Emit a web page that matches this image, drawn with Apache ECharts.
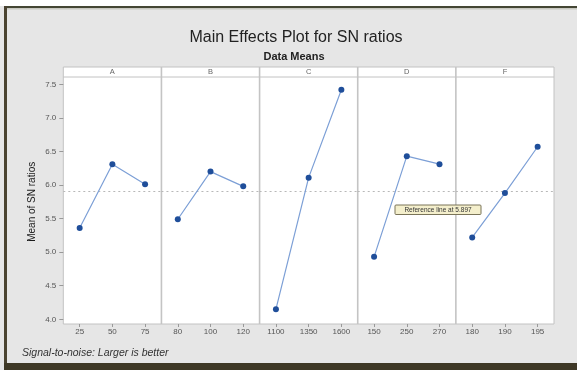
<!DOCTYPE html>
<html>
<head>
<meta charset="utf-8">
<script src="https://cdn.jsdelivr.net/npm/echarts@6/dist/echarts.min.js"></script>
<style>html,body{margin:0;padding:0;background:#fff;}#chart{width:577px;height:370px;}</style>
</head>
<body>
<div id="chart"></div>
<script>
// ---- data ----
const factorNames = ['A', 'B', 'C', 'D', 'F'];
const levelsA = ['25', '50', '75'];
const levelsB = ['80', '100', '120'];
const levelsC = ['1100', '1350', '1600'];
const levelsD = ['150', '250', '270'];
const levelsF = ['180', '190', '195'];
const meansA = [5.36, 6.31, 6.01];
const meansB = [5.49, 6.20, 5.98];
const meansC = [4.15, 6.11, 7.42];
const meansD = [4.93, 6.43, 6.31];
const meansF = [5.22, 5.88, 6.57];
const referenceValue = 5.897;
const yMin = 4.0, yMax = 7.5, yStep = 0.5;

const levels = [levelsA, levelsB, levelsC, levelsD, levelsF];
const means = [meansA, meansB, meansC, meansD, meansF];

// ---- layout ----
const W = 577, H = 370;
const plotLeft = 63.3, plotRight = 554;
const panelW = (plotRight - plotLeft) / 5;
const gridTop = 84.3, gridBottomY = 319.3;
const stripTop = 67, stripBottom = 77, frameBottom = 324;
const font = 'Liberation Sans, Arial, sans-serif';

const grids = [], xAxes = [], yAxes = [], series = [];
factorNames.forEach((f, i) => {
  grids.push({left: plotLeft + i * panelW, width: panelW, top: gridTop, height: gridBottomY - gridTop, containLabel: false});
  xAxes.push({
    gridIndex: i, type: 'category', data: levels[i], boundaryGap: true, offset: frameBottom - gridBottomY,
    axisLine: {show: false},
    axisTick: {show: true, alignWithLabel: true, length: 3, lineStyle: {color: '#999'}},
    axisLabel: {fontSize: 8, color: '#555', margin: 4, fontFamily: font},
    splitLine: {show: false}
  });
  yAxes.push({
    gridIndex: i, type: 'value', min: yMin, max: yMax, interval: yStep,
    axisLine: {show: false},
    axisTick: {show: i === 0, length: 4, lineStyle: {color: '#999'}},
    axisLabel: {show: i === 0, fontSize: 8, color: '#555', margin: 7, fontFamily: font, formatter: v => v.toFixed(1)},
    splitLine: {show: false},
    name: i === 0 ? 'Mean of SN ratios' : '',
    nameLocation: 'middle', nameGap: 26, nameRotate: 90,
    nameTextStyle: {fontSize: 10, color: '#1a1a1a', fontFamily: font}
  });
  series.push({
    type: 'line', xAxisIndex: i, yAxisIndex: i, data: means[i],
    symbol: 'circle', symbolSize: 6, z: 5,
    itemStyle: {color: '#1f4e9a'},
    lineStyle: {color: '#7c9fd6', width: 1.2},
    emphasis: {disabled: true},
    markLine: {
      silent: true, symbol: 'none', z: 3,
      label: {show: false},
      lineStyle: {type: [2, 3], color: '#b8b8b8', width: 1},
      data: [{yAxis: referenceValue}]
    }
  });
});

const graphics = [
  // outer window frame
  {type: 'rect', shape: {x: 0, y: 0, width: W, height: 6}, style: {fill: '#ffffff'}, z: -10},
  {type: 'rect', shape: {x: 4, y: 6, width: W - 4, height: 2}, style: {fill: '#444634'}, z: -9},
  {type: 'rect', shape: {x: 7, y: 8, width: W - 7, height: 1.5}, style: {fill: '#c8c8c0'}, z: -9},
  {type: 'rect', shape: {x: 4, y: 6, width: 3, height: H - 6}, style: {fill: '#4a4330'}, z: -9},
  {type: 'rect', shape: {x: 4, y: 363, width: W - 4, height: 7}, style: {fill: '#3e3826'}, z: -9},
  // panel frame
  {type: 'rect', shape: {x: plotLeft, y: stripTop, width: plotRight - plotLeft, height: frameBottom - stripTop},
   style: {fill: '#ffffff', stroke: '#c2c2c2', lineWidth: 1}, z: -5},
  {type: 'line', shape: {x1: plotLeft, y1: stripBottom, x2: plotRight, y2: stripBottom},
   style: {stroke: '#c2c2c2', lineWidth: 1}, z: -4}
];
for (let i = 1; i < 5; i++) {
  const x = plotLeft + i * panelW;
  graphics.push({type: 'line', shape: {x1: x, y1: stripTop, x2: x, y2: frameBottom},
    style: {stroke: '#c4c4c4', lineWidth: 1.6}, z: -4});
}
factorNames.forEach((f, i) => {
  graphics.push({type: 'text', x: plotLeft + (i + 0.5) * panelW, y: (stripTop + stripBottom) / 2,
    style: {text: f, fontSize: 7.5, fill: '#666', align: 'center', verticalAlign: 'middle', fontFamily: font}, z: -3});
});
// reference-line annotation
graphics.push({type: 'rect', shape: {x: 395, y: 205, width: 86, height: 9.5, r: 1},
  style: {fill: '#f4efcc', stroke: '#7a7458', lineWidth: 1}, z: 10});
graphics.push({type: 'text', x: 438, y: 210,
  style: {text: 'Reference line at ' + referenceValue.toFixed(3), fontSize: 6.5, fill: '#333', align: 'center', verticalAlign: 'middle', fontFamily: font}, z: 11});
// footer
graphics.push({type: 'text', x: 22, y: 353,
  style: {text: 'Signal-to-noise: Larger is better', fontSize: 10.5, fontStyle: 'italic', fill: '#333', verticalAlign: 'middle', fontFamily: font}, z: 1});

const chart = echarts.init(document.getElementById('chart'), null, {renderer: 'canvas'});
chart.setOption({
  animation: false,
  backgroundColor: '#e6e6e6',
  title: [
    {text: 'Main Effects Plot for SN ratios', left: 291, top: 25, textAlign: 'center',
     textStyle: {fontSize: 16, fontWeight: 'normal', color: '#222', fontFamily: font}},
    {text: 'Data Means', left: 289, top: 46, textAlign: 'center',
     textStyle: {fontSize: 11, fontWeight: 'bold', color: '#222', fontFamily: font}}
  ],
  grid: grids, xAxis: xAxes, yAxis: yAxes, series: series,
  graphic: graphics
});
</script>
</body>
</html>
